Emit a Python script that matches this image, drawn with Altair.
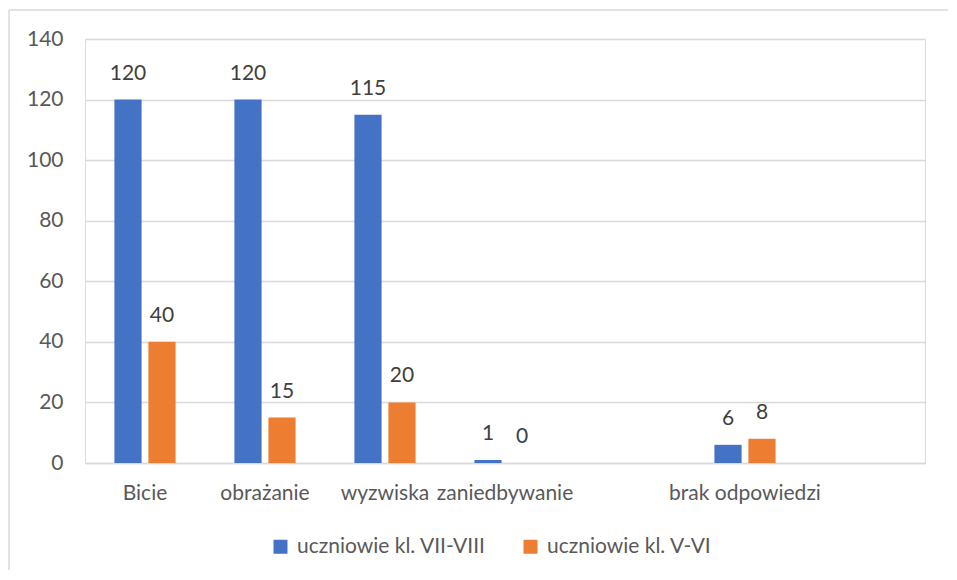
import altair as alt
import pandas as pd

categories = ["Bicie", "obrażanie", "wyzwiska", "zaniedbywanie", " ", "brak odpowiedzi", "  "]
series = ["uczniowie kl. VII-VIII", "uczniowie kl. V-VI"]
values_vii_viii = [120, 120, 115, 1, None, 6, None]
values_v_vi = [40, 15, 20, 0, None, 8, None]
colors = ["#4472C4", "#ED7D31"]
y_ticks = [0, 20, 40, 60, 80, 100, 120, 140]

rows = []
for c, a, b in zip(categories, values_vii_viii, values_v_vi):
    if a is not None:
        rows.append({"cat": c, "series": series[0], "value": a})
    if b is not None:
        rows.append({"cat": c, "series": series[1], "value": b})
df = pd.DataFrame(rows)

FONT = "Lato"
FS = 21

base = alt.Chart(df).encode(
    x=alt.X(
        "cat:N",
        sort=categories,
        scale=alt.Scale(domain=categories, paddingInner=0.49, paddingOuter=0.245),
        axis=alt.Axis(
            title=None, labelAngle=0, ticks=False, domainColor="#D9D9D9",
            domainWidth=1.3, labelColor="#595959", labelFontSize=FS,
            labelFont=FONT, labelPadding=19, labelLimit=0,
        ),
    ),
    xOffset=alt.XOffset(
        "series:N", sort=series,
        scale=alt.Scale(domain=series, paddingInner=0.2, paddingOuter=0),
    ),
    y=alt.Y(
        "value:Q",
        scale=alt.Scale(domain=[0, 140], nice=False),
        axis=alt.Axis(
            title=None, values=y_ticks, ticks=False, domain=False,
            gridColor="#D9D9D9", gridWidth=1.3, labelColor="#595959",
            labelFontSize=FS, labelFont=FONT, labelPadding=22,
        ),
    ),
)

bars = base.mark_bar().encode(
    color=alt.Color(
        "series:N",
        sort=series,
        scale=alt.Scale(domain=series, range=colors),
        legend=alt.Legend(
            title=None, orient="none", direction="horizontal",
            legendX=185, legendY=497, symbolType="square", symbolSize=196,
            symbolStrokeWidth=0, labelFontSize=FS, labelFont=FONT,
            labelColor="#595959", columnPadding=34, labelOffset=6,
            labelLimit=0,
        ),
    )
)

labels = base.mark_text(
    baseline="middle", dy=-26, fontSize=FS, font=FONT, color="#404040"
).encode(text="value:Q")

# chart-area border (top and left edges; the rest is cut off in the original)
frame_df = pd.DataFrame({"x1": [-76, -76], "x2": [863, -76], "y1": [-29, -29], "y2": [-29, 531]})
frame = alt.Chart(frame_df).mark_rule(color="#D9D9D9", strokeWidth=1.5).encode(
    x=alt.X("x1:Q", scale=None), x2="x2:Q",
    y=alt.Y("y1:Q", scale=None), y2="y2:Q",
)

chart = alt.layer(frame, bars, labels).properties(
    width=840, height=424,
    autosize=alt.AutoSizeParams(type="none"),
    padding={"left": 77, "top": 31, "right": 24, "bottom": 108},
).configure_view(stroke=None).configure(background="white")

chart.save("out.html", embed_options={"renderer": "svg", "actions": False})
